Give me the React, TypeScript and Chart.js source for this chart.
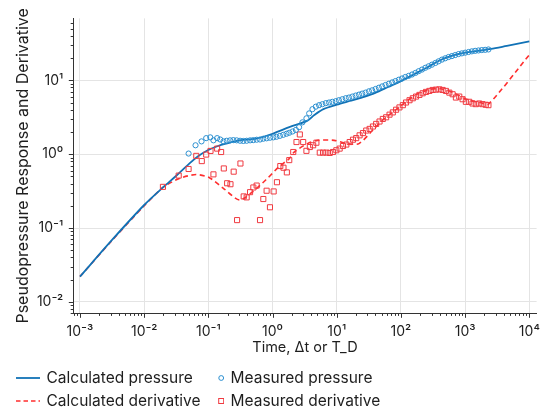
import React, { useEffect, useRef } from "react";
import { Chart, registerables } from "chart.js";

Chart.register(...registerables);

// ---------- data ----------
const calcPressureT = [0.001, 0.00316, 0.01, 0.02, 0.0316, 0.0509, 0.0708, 0.098, 0.141, 0.189, 0.304, 0.553, 1.0, 1.82, 3.5, 4.47, 6.31, 10, 15.8, 25.1, 39.8, 63.1, 100, 158, 251, 398, 631, 1000, 1585, 2512, 4467, 10000];
const calcPressureP = [0.022, 0.069, 0.205, 0.36, 0.51, 0.75, 0.95, 1.13, 1.29, 1.39, 1.54, 1.62, 1.89, 2.32, 2.85, 3.39, 4.1, 4.68, 5.25, 5.89, 6.76, 8.13, 9.77, 12.0, 14.8, 18.6, 21.6, 23.7, 25.1, 26.6, 29.3, 33.6];

const calcDerivT = [0.001, 0.00316, 0.01, 0.0196, 0.0354, 0.0647, 0.104, 0.168, 0.304, 0.49, 0.79, 1.27, 1.82, 2.17, 3.5, 5.0, 9.1, 14.6, 22.2, 37.9, 54.2, 87.3, 125, 178, 288, 411, 662, 1064, 1718, 2312, 10000];
const calcDerivD = [0.022, 0.068, 0.2, 0.354, 0.47, 0.53, 0.48, 0.35, 0.24, 0.31, 0.45, 0.68, 0.87, 1.07, 1.39, 1.54, 1.54, 1.39, 1.39, 2.2, 3.0, 4.1, 5.3, 6.5, 7.55, 7.7, 6.8, 5.5, 5.0, 4.75, 22.2];

const measPressureT = [0.0492, 0.0631, 0.0782, 0.0925, 0.107, 0.120, 0.137, 0.153, 0.172, 0.193, 0.218, 0.245, 0.276, 0.312, 0.351, 0.395, 0.447, 0.501, 0.565, 0.638, 0.718, 0.807, 0.912, 1.03, 1.15, 1.30, 1.47, 1.65, 1.82, 2.05, 2.31, 2.59, 2.92, 3.37, 3.72, 4.18, 4.72, 5.31, 5.97, 6.75, 7.59, 8.53, 9.64, 10.8, 12.2, 13.8, 15.5, 17.5, 19.7, 22.2, 24.9, 28.1, 31.7, 35.6, 40.3, 45.3, 50.9, 57.5, 64.7, 72.9, 82.2, 92.7, 104, 117, 132, 149, 168, 189, 213, 240, 270, 304, 344, 386, 436, 490, 553, 622, 701, 791, 889, 1002, 1130, 1271, 1432, 1614, 1816, 2051, 2307];
const measPressureP = [1.02, 1.32, 1.49, 1.65, 1.69, 1.54, 1.65, 1.58, 1.49, 1.52, 1.54, 1.55, 1.54, 1.52, 1.51, 1.52, 1.54, 1.55, 1.57, 1.58, 1.62, 1.64, 1.67, 1.69, 1.72, 1.77, 1.83, 1.89, 1.95, 2.03, 2.13, 2.32, 2.70, 3.06, 3.57, 4.07, 4.40, 4.61, 4.75, 4.91, 5.01, 5.12, 5.22, 5.38, 5.55, 5.73, 5.85, 6.03, 6.22, 6.41, 6.61, 6.82, 7.10, 7.33, 7.64, 7.94, 8.28, 8.65, 8.99, 9.38, 9.77, 10.2, 10.6, 11.1, 11.5, 12.0, 12.6, 13.3, 14.0, 14.8, 15.5, 16.3, 17.2, 18.1, 19.1, 19.9, 20.7, 21.3, 22.0, 22.7, 23.2, 23.7, 24.2, 24.7, 25.1, 25.4, 25.7, 25.9, 26.2];

const measDerivT = [0.0196, 0.0345, 0.0492, 0.0648, 0.079, 0.0925, 0.108, 0.120, 0.137, 0.158, 0.174, 0.196, 0.221, 0.248, 0.280, 0.316, 0.355, 0.395, 0.446, 0.502, 0.565, 0.638, 0.718, 0.808, 0.911, 1.04, 1.17, 1.32, 1.48, 1.67, 1.82, 2.10, 2.36, 2.66, 3.00, 3.37, 3.81, 4.29, 4.82, 5.44, 6.12, 6.89, 7.78, 8.75, 9.85, 11.1, 12.5, 14.1, 15.9, 17.9, 20.1, 22.7, 25.6, 28.8, 32.5, 36.6, 41.1, 46.4, 52.2, 58.8, 66.4, 74.7, 84.1, 94.8, 107, 120, 136, 153, 172, 194, 218, 246, 277, 312, 351, 396, 446, 502, 567, 638, 718, 810, 912, 1026, 1158, 1303, 1466, 1655, 1862, 2095, 2307];
const measDerivD = [0.361, 0.513, 0.630, 0.949, 0.806, 0.988, 1.107, 0.533, 1.19, 1.07, 0.641, 0.404, 0.392, 0.580, 0.128, 0.748, 0.268, 0.260, 0.306, 0.354, 0.376, 0.128, 0.247, 0.320, 0.191, 0.313, 0.417, 0.691, 0.656, 0.567, 0.831, 1.07, 1.46, 1.85, 1.46, 1.11, 1.25, 1.32, 1.43, 1.05, 1.05, 1.05, 1.04, 1.07, 1.13, 1.19, 1.29, 1.35, 1.46, 1.57, 1.65, 1.80, 1.93, 2.09, 2.20, 2.37, 2.57, 2.77, 3.00, 3.16, 3.43, 3.68, 4.00, 4.30, 4.61, 5.01, 5.38, 5.72, 6.03, 6.35, 6.68, 6.97, 7.19, 7.41, 7.48, 7.55, 7.41, 7.19, 6.82, 6.48, 5.85, 6.03, 5.55, 5.12, 5.12, 4.86, 4.76, 4.86, 4.76, 4.67, 4.61];

const xTickValues = [1e-3, 1e-2, 1e-1, 1, 10, 100, 1000, 10000];
const xTickLabels = ["10⁻³", "10⁻²", "10⁻¹", "10⁰", "10¹", "10²", "10³", "10⁴"];
const yTickValues = [0.01, 0.1, 1, 10];
const yTickLabels = ["10⁻²", "10⁻¹", "10⁰", "10¹"];

const xTitle = "Time, Δt or T_D";
const yTitle = "Pseudopressure Response and Derivative";
const seriesNames = ["Calculated pressure", "Measured pressure", "Calculated derivative", "Measured derivative"];

// ---------- style ----------
const BLUE_LINE = "#1172b6";
const BLUE_MARK = "#2b8fd0";
const RED_LINE = "#ff2e2e";
const RED_MARK = "#f03a40";
const FONT = "Inter, 'Noto Sans', sans-serif";
const TEXT = "#1e1e1e";

const pairs = (xs: number[], ys: number[]) => {
  const n = Math.min(xs.length, ys.length);
  const out: { x: number; y: number }[] = [];
  for (let i = 0; i < n; i++) out.push({ x: xs[i], y: ys[i] });
  return out;
};

const labelFor = (vals: number[], labels: string[], v: number) => {
  for (let i = 0; i < vals.length; i++) {
    if (Math.abs(Math.log10(vals[i]) - Math.log10(v)) < 1e-6) return labels[i];
  }
  return "";
};

const logTickMarks = {
  id: "logTickMarks",
  afterDraw(chart: any) {
    const { ctx, chartArea, scales } = chart;
    const xs = scales.x;
    const ys = scales.y;
    ctx.save();
    ctx.strokeStyle = "#333";
    ctx.lineWidth = 1;
    for (let e = -5; e <= 5; e++) {
      for (let m = 1; m <= 9; m++) {
        const v = m * Math.pow(10, e);
        const len = m === 1 ? 4.5 : 2.6;
        if (v >= xs.min && v <= xs.max) {
          const px = Math.round(xs.getPixelForValue(v)) + 0.5;
          ctx.beginPath();
          ctx.moveTo(px, chartArea.bottom);
          ctx.lineTo(px, chartArea.bottom + len);
          ctx.stroke();
        }
        if (v >= ys.min && v <= ys.max) {
          const py = Math.round(ys.getPixelForValue(v)) + 0.5;
          ctx.beginPath();
          ctx.moveTo(chartArea.left, py);
          ctx.lineTo(chartArea.left - len, py);
          ctx.stroke();
        }
      }
    }
    ctx.restore();
  },
};

function ChartCanvas() {
  const ref = useRef<HTMLCanvasElement | null>(null);
  useEffect(() => {
    if (!ref.current) return;
    const chart = new Chart(ref.current, {
      type: "scatter",
      data: {
        datasets: [
          {
            label: seriesNames[1],
            data: pairs(measPressureT, measPressureP),
            showLine: false,
            pointStyle: "circle",
            pointRadius: 2.6,
            pointBorderWidth: 1,
            pointBorderColor: BLUE_MARK,
            pointBackgroundColor: "rgba(255,255,255,0)",
            order: 0,
          },
          {
            label: seriesNames[3],
            data: pairs(measDerivT, measDerivD),
            showLine: false,
            pointStyle: "rect",
            pointRadius: 3.6,
            pointBorderWidth: 1,
            pointBorderColor: RED_MARK,
            pointBackgroundColor: "rgba(255,255,255,0)",
            order: 0,
          },
          {
            label: seriesNames[0],
            data: pairs(calcPressureT, calcPressureP),
            showLine: true,
            borderColor: BLUE_LINE,
            borderWidth: 1.8,
            pointRadius: 0,
            tension: 0.3,
            order: 1,
          },
          {
            label: seriesNames[2],
            data: pairs(calcDerivT, calcDerivD),
            showLine: true,
            borderColor: RED_LINE,
            borderWidth: 1.6,
            borderDash: [5, 3.5],
            pointRadius: 0,
            tension: 0.25,
            order: 1,
          },
        ],
      },
      options: {
        animation: false,
        responsive: true,
        maintainAspectRatio: false,
        events: [],
        layout: { padding: { left: 0, top: 15, right: 11.7, bottom: 58.7 } },
        plugins: { legend: { display: false }, tooltip: { enabled: false } },
        scales: {
          x: {
            type: "logarithmic",
            min: 7.87e-4,
            max: 12970,
            afterBuildTicks: (s: any) => {
              s.ticks = xTickValues.map((v) => ({ value: v }));
            },
            afterFit: (s: any) => {
              s.height = 45;
            },
            ticks: {
              autoSkip: false,
              maxRotation: 0,
              padding: 10,
              color: TEXT,
              font: { family: FONT, size: 14 },
              callback: (v: any) => labelFor(xTickValues, xTickLabels, Number(v)),
            },
            grid: { color: "#e4e4e4", lineWidth: 1, drawTicks: false },
            border: { display: true, color: "#333", width: 1 },
            title: {
              display: true,
              text: xTitle,
              color: TEXT,
              font: { family: FONT, size: 14.5 },
              padding: { top: 0, bottom: 1.5 },
            },
          },
          y: {
            type: "logarithmic",
            min: 0.0070,
            max: 69.0,
            afterBuildTicks: (s: any) => {
              s.ticks = yTickValues.map((v) => ({ value: v }));
            },
            afterFit: (s: any) => {
              s.width = 73.3;
            },
            ticks: {
              autoSkip: false,
              padding: 10,
              color: TEXT,
              font: { family: FONT, size: 14 },
              callback: (v: any) => labelFor(yTickValues, yTickLabels, Number(v)),
            },
            grid: { color: "#e4e4e4", lineWidth: 1, drawTicks: false },
            border: { display: true, color: "#333", width: 1 },
            title: {
              display: true,
              text: yTitle,
              color: TEXT,
              font: { family: FONT, size: 16 },
              padding: { top: 13.5, bottom: 0 },
            },
          },
        },
      },
      plugins: [logTickMarks],
    } as any);
    return () => chart.destroy();
  }, []);
  return <canvas ref={ref} />;
}

function LegendItem({ kind, color, label, x, y }: { kind: string; color: string; label: string; x: number; y: number }) {
  let icon: React.ReactNode = null;
  if (kind === "solid") {
    icon = <line x1={0} y1={6} x2={24} y2={6} stroke={color} strokeWidth={1.8} />;
  } else if (kind === "dashed") {
    icon = <line x1={0} y1={6} x2={24} y2={6} stroke={color} strokeWidth={1.6} strokeDasharray="4.5 3" />;
  } else if (kind === "circle") {
    icon = <circle cx={21.2} cy={6} r={2.4} fill="none" stroke={color} strokeWidth={1} />;
  } else {
    icon = <rect x={18.7} y={3.5} width={5} height={5} fill="none" stroke={color} strokeWidth={1} />;
  }
  return (
    <div style={{ position: "absolute", left: x, top: y - 10, height: 20, display: "flex", alignItems: "center", whiteSpace: "nowrap" }}>
      <svg width={24} height={12} style={{ display: "block" }}>{icon}</svg>
      <span style={{ marginLeft: 6.5, fontFamily: FONT, fontSize: 15.5, color: TEXT, lineHeight: "20px" }}>{label}</span>
    </div>
  );
}

export default function App() {
  return (
    <div style={{ position: "absolute", left: 0, top: 0, width: 550, height: 417, background: "#fff", overflow: "hidden" }}>
      <div style={{ position: "absolute", left: 0, top: 0, width: 550, height: 417 }}>
        <ChartCanvas />
      </div>
      <LegendItem kind="solid" color={BLUE_LINE} label={seriesNames[0]} x={16} y={377.7} />
      <LegendItem kind="dashed" color={RED_LINE} label={seriesNames[2]} x={16} y={401} />
      <LegendItem kind="circle" color={BLUE_MARK} label={seriesNames[1]} x={200} y={377.7} />
      <LegendItem kind="rect" color={RED_MARK} label={seriesNames[3]} x={200} y={401} />
    </div>
  );
}
